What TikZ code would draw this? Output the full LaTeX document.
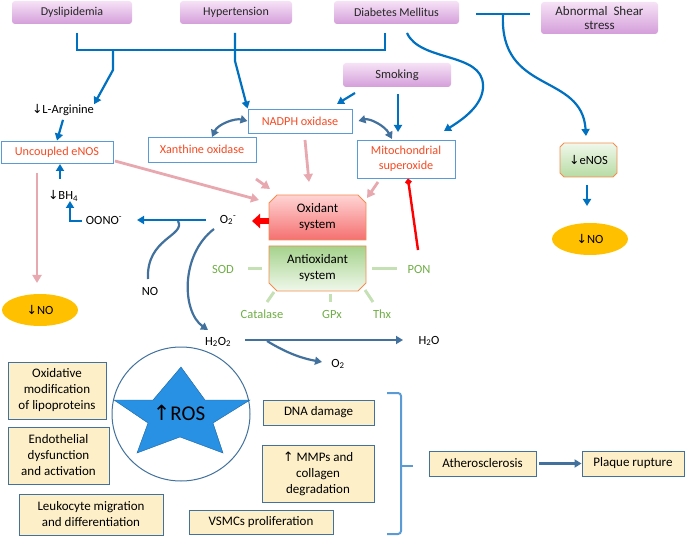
\documentclass[tikz,border=0pt]{standalone}
\usepackage{fontspec}
\setmainfont{Carlito}
\newfontfamily\arrfont{DejaVu Sans}
\usetikzlibrary{arrows.meta,calc,shapes.geometric}
\newcommand\dnarr{{\arrfont\char"2193}}
\newcommand\uparr{{\arrfont\char"2191}}
\definecolor{lblue}{RGB}{0,112,192}
\definecolor{sblue}{RGB}{65,113,156}
\definecolor{bborder}{RGB}{91,155,213}
\definecolor{otext}{RGB}{245,75,35}
\definecolor{pinkc}{RGB}{232,168,175}
\definecolor{gtext}{RGB}{112,173,71}
\definecolor{glinec}{RGB}{197,224,180}
\definecolor{yfill}{RGB}{253,239,200}
\definecolor{goldc}{RGB}{255,192,0}
\definecolor{purtop}{RGB}{246,226,246}
\definecolor{purbot}{RGB}{212,158,218}
\definecolor{oborder}{RGB}{244,140,80}
\definecolor{redtop}{RGB}{255,212,212}
\definecolor{redbot}{RGB}{244,112,112}
\definecolor{grntop}{RGB}{165,210,140}
\definecolor{grnbot}{RGB}{240,248,235}
\definecolor{starblue}{RGB}{40,145,228}
\definecolor{bracec}{RGB}{91,155,213}
\begin{document}
\begin{tikzpicture}[x=1pt,y=-1pt,
  font=\fontsize{12.5}{15.5}\selectfont,
  pbox/.style={rounded corners=3pt, top color=purtop, bottom color=purbot, inner sep=0pt, align=center, text=black!85, font=\fontsize{12}{14.5}\selectfont},
  wbox/.style={draw=bborder, fill=white, line width=0.9pt, text=otext, inner sep=0pt, align=center, font=\fontsize{12.2}{15}\selectfont},
  ybox/.style={draw=sblue, fill=yfill, line width=0.9pt, inner sep=0pt, align=center, font=\fontsize{13}{16}\selectfont},
  ell/.style={ellipse, fill=goldc, minimum width=76pt, minimum height=32pt, inner sep=0pt},
  gt/.style={text=gtext, inner sep=0pt},
  lbl/.style={inner sep=0pt},
  bl/.style={draw=lblue, line width=2.2pt, -{Triangle[length=7pt,width=8pt]}},
  bline/.style={draw=lblue, line width=2.2pt},
  sb/.style={draw=sblue, line width=2.2pt, -{Triangle[length=7pt,width=8pt]}},
  sbb/.style={draw=sblue, line width=2.2pt, {Triangle[length=7pt,width=8pt]}-{Triangle[length=7pt,width=8pt]}},
  pk/.style={draw=pinkc, line width=2.8pt, -{Triangle[length=8pt,width=9pt]}},
  gl/.style={draw=glinec, line width=3pt}
]
\useasboundingbox (0,0) rectangle (685,537);

% top boxes
\node[pbox, minimum width=120pt, minimum height=23pt] (dys) at (72,12.5) {Dyslipidemia};
\node[pbox, minimum width=112pt, minimum height=23pt] (hyp) at (236,12.5) {Hypertension};
\node[pbox, minimum width=125pt, minimum height=23pt] (dia) at (396.5,12.5) {Diabetes Mellitus};
\node[pbox, minimum width=117pt, minimum height=32pt, font=\fontsize{13}{14}\selectfont] (she) at (599.5,18) {Abnormal\ \ Shear\\stress};
\node[pbox, minimum width=108pt, minimum height=24pt, font=\fontsize{12.5}{15}\selectfont] (smo) at (397,75) {Smoking};

% white boxes
\node[wbox, minimum width=104pt, minimum height=24pt] (nad) at (300,121) {NADPH oxidase};
\node[wbox, minimum width=108pt, minimum height=25pt] (xan) at (202,149.5) {Xanthine oxidase};
\node[wbox, minimum width=98pt, minimum height=38pt] (mit) at (406,159) {Mitochondrial\\superoxide};
\node[wbox, minimum width=112pt, minimum height=22pt] (unc) at (57,152) {Uncoupled eNOS};

% eNOS box
\path[draw=oborder, line width=0.9pt, top color=grnbot, bottom color=grntop!80]
  (564,143) -- (613,143) -- (617,147) -- (617,173) -- (613,177) -- (564,177) -- (560,173) -- (560,147) -- cycle;
\node[lbl] (enos) at (588.5,160) {\dnarr eNOS};

\node[ell] (no2) at (590,239) {\dnarr NO};
\node[ell] (no1) at (40,310) {\dnarr NO};

% oxidant / antioxidant
\path[draw=oborder, line width=0.9pt, top color=redtop, bottom color=redbot]
  (269,203) -- (277,195) -- (358,195) -- (366,203) -- (366,240) -- (269,240) -- cycle;
\node[lbl, align=center, font=\fontsize{13}{16}\selectfont] (ox) at (317.5,217.5) {Oxidant\\system};
\path[draw=oborder, line width=0.9pt, top color=grntop, bottom color=grnbot]
  (269,246) -- (366,246) -- (366,283) -- (358,291) -- (277,291) -- (269,283) -- cycle;
\node[lbl, align=center, font=\fontsize{13}{16}\selectfont] (aox) at (317.5,268.5) {Antioxidant\\system};

% labels
\node[lbl] (o2m) at (228,220) {O\textsubscript{2}\textsuperscript{-}};
\node[lbl] (oono) at (104,220) {OONO\textsuperscript{-}};
\node[lbl] (bh4) at (63,196) {\dnarr BH\textsubscript{4}};
\node[lbl] (no) at (150,291) {NO};
\node[lbl] (larg) at (63,110) {\dnarr L-Arginine};
\node[gt] (sod) at (223,269) {SOD};
\node[gt] (pon) at (419,269) {PON};
\node[gt] (cat) at (262,314) {Catalase};
\node[gt] (gpx) at (332,314) {GPx};
\node[gt] (thx) at (382,314) {Thx};
\node[lbl] (h2o2) at (218,342) {H\textsubscript{2}O\textsubscript{2}};
\node[lbl] (h2o) at (429,341) {H\textsubscript{2}O};
\node[lbl] (o2) at (338,364) {O\textsubscript{2}};

% ROS star
\draw[sblue, line width=1pt] (181,414) ellipse [x radius=69, y radius=67];
\fill[starblue, draw=starblue!70!black, line width=0.4pt] (181,367) -- (205,400) -- (250,400) -- (213,423) -- (223,453) -- (180,437) -- (137,453) -- (148,423) -- (114,400) -- (153,400) -- cycle;
\node[lbl, font=\fontsize{21}{24}\selectfont] (ros) at (179,413) {\uparr ROS};

% yellow boxes
\node[ybox, minimum width=98pt, minimum height=57pt] (oxm) at (57,390.5) {Oxidative\\modification\\of lipoproteins};
\node[ybox, minimum width=101pt, minimum height=57pt] (endo) at (58.5,455.5) {Endothelial\\dysfunction\\and activation};
\node[ybox, minimum width=144pt, minimum height=41pt] (leu) at (91,514.5) {Leukocyte migration\\and differentiation};
\node[ybox, minimum width=111pt, minimum height=25pt] (dna) at (318.5,412.5) {DNA damage};
\node[ybox, minimum width=112pt, minimum height=57pt] (mmp) at (318,473.5) {\uparr\ MMPs and\\collagen\\degradation};
\node[ybox, minimum width=144pt, minimum height=24pt] (vsm) at (261,522) {VSMCs proliferation};
\node[ybox, minimum width=107pt, minimum height=25pt] (ath) at (482.5,463.5) {Atherosclerosis};
\node[ybox, minimum width=102pt, minimum height=25pt] (pla) at (633,463.5) {Plaque rupture};

% brace
\draw[bracec, line width=2pt, rounded corners=3pt] (387,393) -| (401,466) |- (387,534);
\draw[bracec, line width=2pt] (401,466) -- (413,466);

% blue connectors from risk factors
\draw[bline] (77,33) -- (77,50) -- (385,50) -- (385,33);
\draw[bl] (113,50) -- (113,70) -- (larg.north east);
\draw[bl] (235,33) -- (235,61) -- (nad.north west);
\draw[bl] (407,33) .. controls (420,62) and (482,52) .. (483,85) .. controls (484,105) and (462,120) .. (444,131);
\draw[bline] (476,14) -- (530,14);
\draw[bl] (503,14) .. controls (499,95) and (582,72) .. (586,136);
\draw[bl] (355,93) -- (337,104);
\draw[bl] (398,94) -- (398,132);
\draw[bl] (larg.south) ++(0,4) -- (unc.north);
\draw[bl] (60,179) -- (60,164);
\draw[bline] (82,221) -- (70,221) -- (70,210);
\draw[bl] (70,211) -- (70,201);
\draw[bl] (o2m.west) ++(-14,0) -- (137,220);
\draw[bl] (587,185) -- (587,206);

% steel blue
\draw[sbb] (nad.west) .. controls (235,118) and (218,124) .. (212,137);
\draw[sbb] (nad.east) ++(6,0) .. controls (370,118) and (385,126) .. (392,139);
\draw[draw=sblue, line width=2.2pt] (148,279) .. controls (146,238) and (186,236) .. (178,221);
\draw[sb] (214,229) .. controls (180,255) and (182,312) .. (208,330);
\draw[sb] (245,340) -- (403,340);
\draw[sb] (267,341) .. controls (285,352) and (300,358) .. (322,362);
\draw[sb] (ath.east) ++(3,0) -- (pla.west);

% pink
\draw[pk] (115,161) -- (259,200);
\draw[pk] (256,179) -- (270,189);
\draw[pk] (305,140) -- (309,182);
\draw[pk] (378,182) -- (367,198);
\draw[pk] (37,173) -- (37,283);

% red
\draw[red, line width=2.4pt, -{Circle[length=6pt]}] (418,250) -- (408,179);
\draw[red, line width=6pt, -{Triangle[length=8pt,width=14pt]}] (269,221) -- (252,221);

% green dashes
\draw[gl] (248,269) -- (262,269);
\draw[gl] (372,269) -- (397,269);
\draw[gl] (274,292) -- (267,302);
\draw[gl] (330,294) -- (330,302);
\draw[gl] (365,290) -- (373,302);
\end{tikzpicture}
\end{document}
